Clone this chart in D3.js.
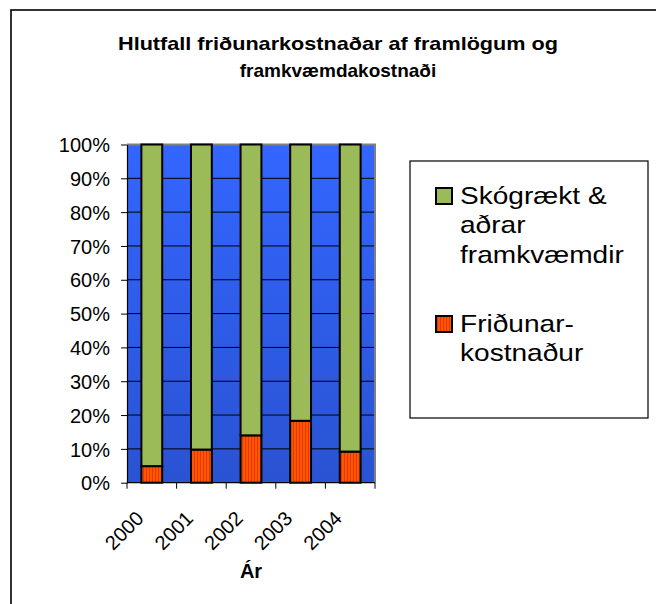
<!DOCTYPE html>
<html>
<head>
<meta charset="utf-8">
<script src="https://cdn.jsdelivr.net/npm/d3@7"></script>
<style>
  html, body { margin: 0; padding: 0; background: #fff; }
  svg { display: block; }
  text { font-family: "Liberation Sans", Arial, sans-serif; fill: #000; }
</style>
</head>
<body>
<svg id="chart" width="656" height="604"></svg>
<script>
// ---- data ----
const years = ["2000", "2001", "2002", "2003", "2004"];
const fridunPct = [4.9, 9.8, 14.0, 18.3, 9.2];           // Friðunarkostnaður (%)
const skograektPct = [95.1, 90.2, 86.0, 81.7, 90.8];     // Skógrækt & aðrar framkvæmdir (%)
const yTicks = [0, 10, 20, 30, 40, 50, 60, 70, 80, 90, 100];
const titleLines = ["Hlutfall friðunarkostnaðar af framlögum og", "framkvæmdakostnaði"];
const xTitle = "Ár";
const legendItems = [
  { key: "skog", lines: ["Skógrækt &", "aðrar", "framkvæmdir"] },
  { key: "frid", lines: ["Friðunar-", "kostnaður"] }
];

const svg = d3.select("#chart");
const defs = svg.append("defs");

const bg = defs.append("linearGradient").attr("id", "bgGrad")
  .attr("x1", 0).attr("y1", 0).attr("x2", 0).attr("y2", 1);
bg.append("stop").attr("offset", "0%").attr("stop-color", "#3366ff");
bg.append("stop").attr("offset", "100%").attr("stop-color", "#2a53d2");

const pat = defs.append("pattern").attr("id", "redStripe")
  .attr("patternUnits", "userSpaceOnUse").attr("width", 3).attr("height", 10);
pat.append("rect").attr("width", 3).attr("height", 10).attr("fill", "#ff5500");
pat.append("rect").attr("x", 2).attr("width", 1).attr("height", 10).attr("fill", "#e03a00");

// outer border
svg.append("rect").attr("x", 11).attr("y", 10).attr("width", 800).attr("height", 800)
  .attr("fill", "none").attr("stroke", "#000").attr("stroke-width", 1.6);

// title
const title = svg.append("text").attr("text-anchor", "middle")
  .style("font-weight", "bold").style("font-size", "19px");
title.append("tspan").attr("x", 338).attr("y", 50)
  .attr("textLength", 440).attr("lengthAdjust", "spacingAndGlyphs").text(titleLines[0]);
title.append("tspan").attr("x", 338).attr("y", 77).text(titleLines[1]);

// plot geometry
const plot = { left: 127, right: 375, top: 144.5, bottom: 482.7 };

const x = d3.scaleBand().domain(years).range([plot.left, plot.right])
  .paddingInner(0.58).paddingOuter(0.29);
const xTick = d3.scaleBand().domain(years).range([plot.left, plot.right]);
const y = d3.scaleLinear().domain([0, 100]).range([plot.bottom, plot.top]);

// plot background
svg.append("rect").attr("x", plot.left).attr("y", plot.top)
  .attr("width", plot.right - plot.left).attr("height", plot.bottom - plot.top)
  .attr("fill", "url(#bgGrad)");

// gridlines
svg.append("g").selectAll("line").data(yTicks.filter(d => d > 0 && d < 100)).join("line")
  .attr("x1", plot.left).attr("x2", plot.right)
  .attr("y1", d => y(d)).attr("y2", d => y(d))
  .attr("stroke", "#000").attr("stroke-width", 1);

// gray border top/right
svg.append("path")
  .attr("d", `M${plot.left},${plot.top}H${plot.right}V${plot.bottom}`)
  .attr("fill", "none").attr("stroke", "#808080").attr("stroke-width", 2);

// stacked bars
const table = years.map((yr, i) => ({ year: yr, frid: fridunPct[i], skog: skograektPct[i] }));
const stack = d3.stack().keys(["frid", "skog"])(table);
const fills = { frid: "url(#redStripe)", skog: "#9bbb59" };

svg.append("g").selectAll("g").data(stack).join("g")
  .attr("fill", d => fills[d.key])
  .selectAll("rect").data(d => d).join("rect")
  .attr("x", d => x(d.data.year))
  .attr("width", x.bandwidth())
  .attr("y", d => y(d[1]))
  .attr("height", d => y(d[0]) - y(d[1]))
  .attr("stroke", "#000").attr("stroke-width", 2);

// y axis
const yAxis = svg.append("g").attr("transform", `translate(${plot.left},0)`)
  .call(d3.axisLeft(y).tickValues(yTicks).tickFormat(d => d + "%").tickSize(6).tickSizeOuter(0));
yAxis.select(".domain").attr("stroke", "#000").attr("stroke-width", 1.2);
yAxis.selectAll(".tick line").attr("stroke", "#000");
yAxis.selectAll(".tick text").attr("x", -17).attr("dy", "0.36em")
  .style("font-size", "20px").style("font-family", "'Liberation Sans', Arial, sans-serif").attr("fill", "#000");

// x axis
const xAxis = svg.append("g").attr("transform", `translate(0,${plot.bottom})`);
xAxis.append("line").attr("x1", plot.left).attr("x2", plot.right)
  .attr("stroke", "#000").attr("stroke-width", 1.2);
const xEdges = years.map(d => xTick(d)).concat([plot.right]);
xAxis.selectAll("line.tk").data(xEdges).join("line").attr("class", "tk")
  .attr("x1", d => d).attr("x2", d => d).attr("y1", 0).attr("y2", 6)
  .attr("stroke", "#000");
xAxis.selectAll("text").data(years).join("text")
  .attr("text-anchor", "end")
  .attr("transform", d => `translate(${xTick(d) + xTick.bandwidth() / 2 - 7},37) rotate(-45)`)
  .style("font-size", "20px")
  .text(d => d);

svg.append("text").attr("x", (plot.left + plot.right) / 2).attr("y", 578)
  .attr("text-anchor", "middle").style("font-weight", "bold").style("font-size", "20px")
  .text(xTitle);

// legend
svg.append("rect").attr("x", 410).attr("y", 161).attr("width", 238).attr("height", 257)
  .attr("fill", "#fff").attr("stroke", "#000").attr("stroke-width", 1.2);
const legTop = [204, 332];
legendItems.forEach((it, i) => {
  const g = svg.append("g");
  g.append("rect").attr("x", 436).attr("y", legTop[i] - 16).attr("width", 16).attr("height", 16)
    .attr("fill", fills[it.key]).attr("stroke", "#000").attr("stroke-width", 2);
  const t = g.append("text").style("font-size", "24px")
    .attr("transform", "translate(460,0) scale(1.17,1)");
  it.lines.forEach((ln, j) => {
    t.append("tspan").attr("x", 0).attr("y", legTop[i] + j * 29.5).text(ln);
  });
});
</script>
</body>
</html>
